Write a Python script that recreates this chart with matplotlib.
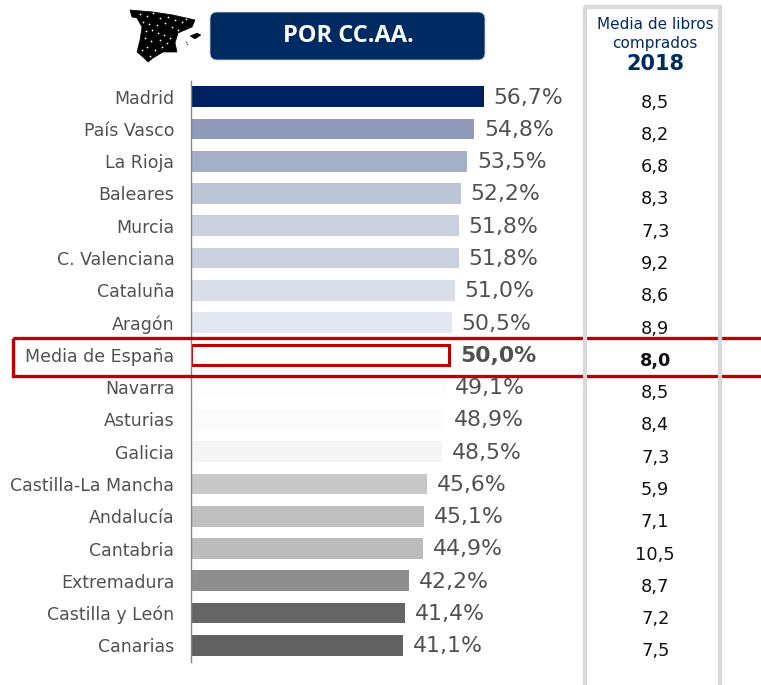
import matplotlib
matplotlib.use("Agg")
import matplotlib.pyplot as plt
from matplotlib.patches import FancyBboxPatch, Polygon, Rectangle

W, H = 761, 685

regions = ["Madrid", "País Vasco", "La Rioja", "Baleares", "Murcia", "C. Valenciana",
           "Cataluña", "Aragón", "Media de España", "Navarra", "Asturias", "Galicia",
           "Castilla-La Mancha", "Andalucía", "Cantabria", "Extremadura",
           "Castilla y León", "Canarias"]
percent = [56.7, 54.8, 53.5, 52.2, 51.8, 51.8, 51.0, 50.5, 50.0, 49.1, 48.9, 48.5,
           45.6, 45.1, 44.9, 42.2, 41.4, 41.1]
books = [8.5, 8.2, 6.8, 8.3, 7.3, 9.2, 8.6, 8.9, 8.0, 8.5, 8.4, 7.3, 5.9, 7.1, 10.5, 8.7, 7.2, 7.5]
colors = ["#002060", "#8e9ab8", "#a3aec7", "#bcc5d6", "#c9d1df", "#c9d1df", "#dadee9", "#e3e7ef",
          "#ffffff", "#fdfdfd", "#fbfbfb", "#f5f5f5", "#c8c8c8", "#bfbfbf", "#bcbcbc", "#8e8e8e",
          "#656565", "#626262"]
MEAN = "Media de España"
NAVY = "#002b62"
RED = "#c00000"
GREY_TEXT = "#505050"


def es(v):
    return f"{v:.1f}".replace(".", ",")


fig = plt.figure(figsize=(W / 100, H / 100), dpi=100, facecolor="white")

# Overlay in pixel coordinates for the decoration
deco = fig.add_axes([0, 0, 1, 1], zorder=3)
deco.set_xlim(0, W)
deco.set_ylim(H, 0)
deco.axis("off")

# Main bar chart
top, bottom = 80.5, 661.5
left, right = 191, 501
ax = fig.add_axes([left / W, 1 - bottom / H, (right - left) / W, (bottom - top) / H], zorder=2)
ax.patch.set_alpha(0)
y = list(range(len(regions)))
for i, (name, v, c) in enumerate(zip(regions, percent, colors)):
    is_mean = name == MEAN
    ax.barh(i, v, height=0.64, color="white" if is_mean else c,
            edgecolor=RED if is_mean else "none", linewidth=2.2 if is_mean else 0)
    ax.text(v + (2.2 if is_mean else 1.9), i + 0.03, es(v) + "%", va="center", ha="left", fontsize=15.8,
            color=GREY_TEXT, fontweight="bold" if is_mean else "normal")
ax.set_xlim(0, 60)
ax.set_ylim(len(regions) - 0.5, -0.5)
ax.set_yticks(y)
ax.set_yticklabels(regions, fontsize=12.5, color=GREY_TEXT)
ax.tick_params(axis="y", length=0, pad=12)
ax.xaxis.set_visible(False)
for s in ("top", "right", "bottom"):
    ax.spines[s].set_visible(False)
ax.spines["left"].set_color("#868686")
ax.spines["left"].set_linewidth(1)

# Books-per-year column, aligned to the same rows
col = fig.add_axes([585 / W, 1 - (bottom + 6) / H, 135 / W, (bottom - top) / H], zorder=2)
col.patch.set_alpha(0)
col.set_xlim(0, 1)
col.set_ylim(len(regions) - 0.5, -0.5)
col.axis("off")
for i, (name, v) in enumerate(zip(regions, books)):
    col.text(0.52, i, es(v), ha="center", va="center", fontsize=12.8, color="#111111",
             fontweight="bold" if name == MEAN else "normal")

# Column frame
frame = "#d9d9d9"
deco.plot([585, 585], [7, H], color=frame, lw=3, solid_capstyle="butt")
deco.plot([720, 720], [7, H], color=frame, lw=3, solid_capstyle="butt")
deco.plot([583.5, 721.5], [7, 7], color=frame, lw=3, solid_capstyle="butt")
deco.text(655, 24, "Media de libros", ha="center", va="center", fontsize=11, color=NAVY)
deco.text(655, 43, "comprados", ha="center", va="center", fontsize=11, color=NAVY)
deco.text(655, 64, "2018", ha="center", va="center", fontsize=15, color=NAVY, fontweight="bold")

# Title pill
deco.add_patch(FancyBboxPatch((215, 17), 265, 38, boxstyle="round,pad=5,rounding_size=7",
                              fc=NAVY, ec="#c9d1df", lw=0.6))
deco.text(348, 36, "POR CC.AA.", ha="center", va="center", fontsize=17, color="white",
          fontweight="bold", family="Open Sans")

# Highlight frame round the national mean row
deco.add_patch(Rectangle((13, 338), 752, 37.5, fc="none", ec=RED, lw=2.4))

# Small Spain map
outline = [(130, 10), (153, 12), (173, 15), (195, 20), (192, 27), (178, 33), (175, 43), (177, 52),
           (163, 52), (153, 58), (148, 62), (143, 57), (137, 52), (140, 40), (142, 27), (137, 18), (132, 17)]
deco.add_patch(Polygon(outline, closed=True, fc="black", ec="black", lw=0.5))
deco.add_patch(Polygon([(190, 36), (197, 33), (201, 35), (195, 39)], closed=True, fc="black", ec="black", lw=0.3))
speck_x = [140, 147, 153, 160, 168, 175, 182, 149, 157, 165, 172, 146, 152, 158, 164, 145, 151, 160, 167, 147, 155, 150, 143, 178, 186, 162, 170, 142]
speck_y = [14, 16, 13, 18, 17, 20, 22, 24, 25, 23, 27, 31, 30, 33, 35, 38, 41, 40, 43, 47, 50, 56, 22, 30, 19, 47, 38, 50]
deco.scatter(speck_x, speck_y, s=1.6, c="white", linewidths=0)
deco.scatter([186, 187], [42, 44], s=1.2, c="#555555", linewidths=0)

fig.savefig("out.png", dpi=100, facecolor="white")
